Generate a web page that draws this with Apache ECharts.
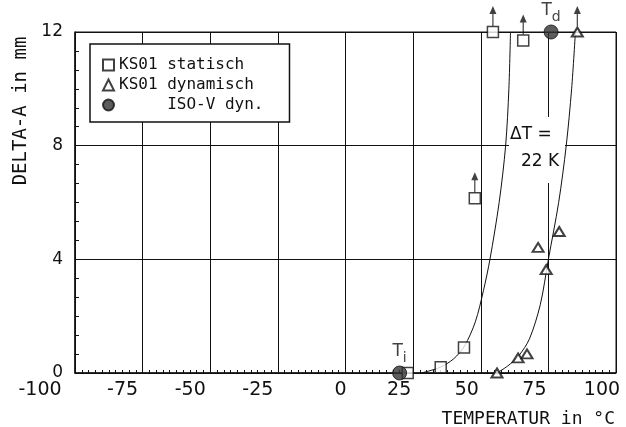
<!DOCTYPE html>
<html><head><meta charset="utf-8">
<script src="https://cdn.jsdelivr.net/npm/echarts@6/dist/echarts.min.js"></script>
<style>html,body{margin:0;padding:0;background:#fff}#c{width:626px;height:427px}</style>
</head><body><div id="c"></div>
<script>
// axis ticks
const xTicks = [-100, -75, -50, -25, 0, 25, 50, 75, 100];
const yTicks = [0, 4, 8, 12];
// series names
const seriesNames = ['KS01 statisch', 'KS01 dynamisch', 'ISO-V dyn.'];
// measured points [temperature °C, delta-A mm]
const statischPts = [[23, 0], [35.2, 0.2], [43.8, 0.9], [47.8, 6.15], [54.5, 12], [65.7, 11.7]];
const statischUp = [0, 0, 0, 1, 1, 1];
const dynamischPts = [[56, 0], [63.8, 0.53], [67.1, 0.67], [71.2, 4.42], [74.2, 3.64], [79, 4.98], [85.7, 12]];
const dynamischUp = [0, 0, 0, 0, 0, 0, 1];
const isoPts = [[20, 0], [76, 12]];
const isoSub = ['i', 'd'];
// fitted curves
const fitStatisch = [[28, 0], [35, 0.2], [40, 0.5], [44, 0.95], [48, 1.8], [51, 2.9], [53.4, 4], [56.8, 6], [59.2, 8], [60.4, 10], [61, 12]];
const fitDynamisch = [[56, 0], [60, 0.25], [64, 0.6], [68, 1.2], [72, 2.4], [75, 4], [78.8, 6], [81.6, 8], [83.6, 10], [85, 12]];
// annotation
const deltaLine1 = 'ΔT =';
const deltaLine2 = '22 K';

const ink = '#111';
const arrowPts = statischPts.filter((p, i) => statischUp[i]).concat(dynamischPts.filter((p, i) => dynamischUp[i]));

const chart = echarts.init(document.getElementById('c'), null, {renderer: 'canvas'});
chart.setOption({
  animation: false,
  backgroundColor: '#fff',
  grid: {left: 75, right: 10, top: 32, bottom: 54, show: true, borderColor: ink, borderWidth: 1, outerBoundsMode: 'none', containLabel: false},
  xAxis: {
    type: 'value', min: xTicks[0], max: xTicks[xTicks.length - 1], interval: xTicks[1] - xTicks[0],
    axisLine: {show: true, onZero: false, lineStyle: {color: ink, width: 1.5}},
    axisTick: {show: true, inside: true, length: 6, lineStyle: {color: ink, width: 1}},
    minorTick: {show: true, splitNumber: 10, length: 3, lineStyle: {color: ink, width: 1}},
    splitLine: {show: true, lineStyle: {color: ink, width: 1}},
    minorSplitLine: {show: false},
    axisLabel: {color: ink, fontFamily: 'DejaVu Sans', fontSize: 19, margin: 8, showMinLabel: true, showMaxLabel: true,
      formatter: function (v) {
        if (v === xTicks[0]) return '{m|' + v + '}';
        if (v < 0) return '{n|' + v + '}';
        if (v === 0) return '{z|' + v + '}';
        return '{p|' + v + '}';
      },
      rich: {
        m: {fontFamily: 'DejaVu Sans', fontSize: 19, color: ink, padding: [0, 70, 0, 0]},
        n: {fontFamily: 'DejaVu Sans', fontSize: 19, color: ink, padding: [0, 40, 0, 0]},
        z: {fontFamily: 'DejaVu Sans', fontSize: 19, color: ink, padding: [0, 10, 0, 0]},
        p: {fontFamily: 'DejaVu Sans', fontSize: 19, color: ink, padding: [0, 28, 0, 0]}
      }
    }
  },
  yAxis: {
    type: 'value', min: yTicks[0], max: yTicks[yTicks.length - 1], interval: yTicks[1] - yTicks[0],
    axisLine: {show: true, onZero: false, lineStyle: {color: ink, width: 1.5}},
    axisTick: {show: true, inside: true, length: 6, lineStyle: {color: ink, width: 1}},
    minorTick: {show: true, splitNumber: 6, length: 4, lineStyle: {color: ink, width: 1}},
    splitLine: {show: true, lineStyle: {color: ink, width: 1}},
    axisLabel: {color: ink, fontFamily: 'DejaVu Sans', fontSize: 17, margin: 12, showMinLabel: true, showMaxLabel: true}
  },
  legend: {
    show: true, orient: 'vertical', left: 90, top: 44,
    data: seriesNames,
    formatter: function (name) { return name === seriesNames[2] ? '     ' + name : name; },
    itemWidth: 11, itemHeight: 11, itemGap: 4,
    padding: [13, 26, 9, 12],
    backgroundColor: '#fff', borderColor: ink, borderWidth: 1.5, borderRadius: 0,
    textStyle: {fontFamily: 'DejaVu Sans Mono', fontSize: 16, color: ink},
    selectedMode: false, z: 10
  },
  graphic: [
    {type: 'rect', shape: {x: 509, y: 117, width: 56, height: 66}, style: {fill: '#fff'}, z: 1, silent: true},
    {type: 'text', x: 510, y: 135, style: {text: deltaLine1, fontSize: 17, fontFamily: 'DejaVu Sans', fill: ink, verticalAlign: 'middle'}, z: 3},
    {type: 'text', x: 521, y: 162, style: {text: deltaLine2, fontSize: 17, fontFamily: 'DejaVu Sans', fill: ink, verticalAlign: 'middle'}, z: 3},
    {type: 'text', x: 21, y: 111, rotation: Math.PI / 2, style: {text: 'DELTA-A in mm', fontSize: 19, fontFamily: 'DejaVu Sans Mono', fill: ink, align: 'center', verticalAlign: 'middle'}, z: 3},
    {type: 'text', x: 615, y: 419, style: {text: 'TEMPERATUR in °C', fontSize: 18, fontFamily: 'DejaVu Sans Mono', fill: ink, align: 'right', verticalAlign: 'middle'}, z: 3}
  ],
  series: [
    {type: 'line', name: 'fitS', data: fitStatisch, smooth: 0.3, symbol: 'none', lineStyle: {color: ink, width: 1}, z: 3, silent: true},
    {type: 'line', name: 'fitD', data: fitDynamisch, smooth: 0.3, symbol: 'none', lineStyle: {color: ink, width: 1}, z: 3, silent: true},
    {type: 'scatter', name: 'arrows', data: arrowPts, clip: false, silent: true,
      symbol: 'path://M3.5,0 L7,8 L4.1,8 L4.1,20 L2.9,20 L2.9,8 L0,8 Z', symbolSize: [7, 20], symbolOffset: [0, -16],
      itemStyle: {color: ink}, z: 4},
    {type: 'scatter', name: seriesNames[0], data: statischPts, clip: false, symbol: 'rect', symbolSize: 11,
      itemStyle: {color: '#fff', borderColor: ink, borderWidth: 1.5}, z: 5},
    {type: 'scatter', name: seriesNames[1], data: dynamischPts, clip: false, symbol: 'triangle', symbolSize: [11, 9],
      itemStyle: {color: '#fff', borderColor: ink, borderWidth: 2}, z: 5},
    {type: 'scatter', name: seriesNames[2], data: isoPts, clip: false, symbol: 'circle', symbolSize: 14,
      itemStyle: {color: '#333', borderColor: ink, borderWidth: 1}, z: 6,
      label: {show: true, position: 'top', distance: 0,
        formatter: function (p) { return '{t|T}{s|' + isoSub[p.dataIndex] + '}'; },
        rich: {t: {fontSize: 17, fontFamily: 'DejaVu Sans', color: ink, verticalAlign: 'top', lineHeight: 22},
               s: {fontSize: 14, fontFamily: 'DejaVu Sans', color: ink, verticalAlign: 'bottom', lineHeight: 22}}}}
  ]
});
</script>
</body></html>
